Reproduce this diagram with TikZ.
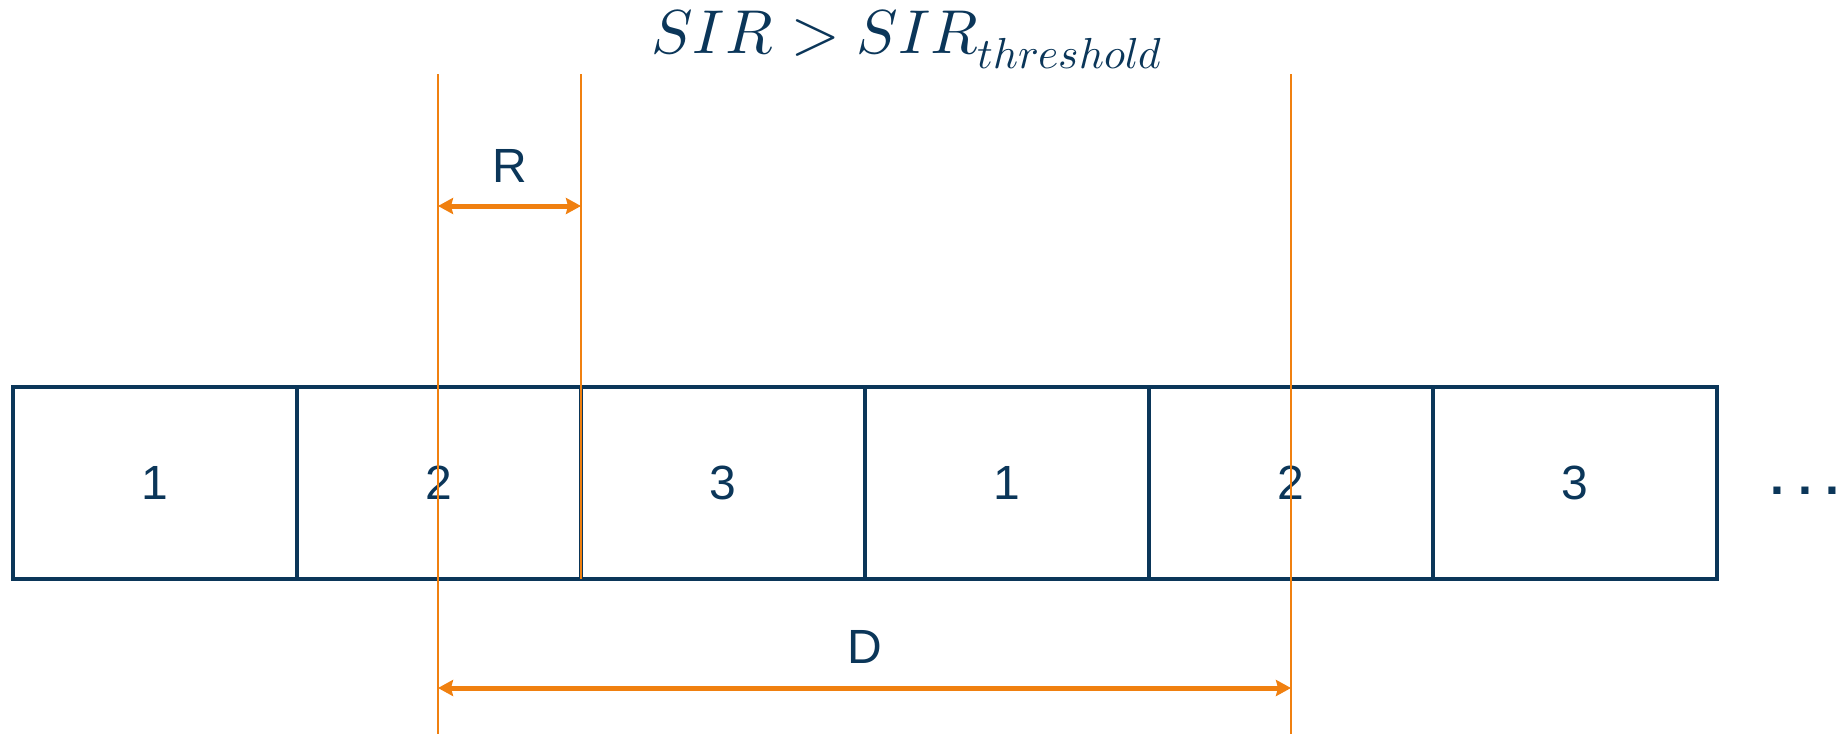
\documentclass[tikz,border=0pt]{standalone}
\usepackage{fontspec}
\usepackage{unicode-math}
\setmainfont{Liberation Sans}
\setmathfont{Latin Modern Math}
\usetikzlibrary{arrows.meta}
\definecolor{navy}{RGB}{11,54,89}
\definecolor{amber}{RGB}{240,128,16}
\frenchspacing

\begin{document}
\begin{tikzpicture}[x=1pt, y=-1pt, font=\fontsize{48}{56}\selectfont, text=navy]
\tikzset{
  cell/.style={draw=navy, line width=4pt, minimum width=284pt, minimum height=192pt, inner sep=0pt, outer sep=0pt},
  guide/.style={draw=amber, line width=2.5pt},
  gap/.style={draw=amber, line width=5pt, {Stealth[length=15pt, width=16pt, inset=2pt]}-{Stealth[length=15pt, width=16pt, inset=2pt]}},
  lab/.style={inner sep=0pt}}
\useasboundingbox (0,0) rectangle (1844,734);

% ---------------- condition on top ----------------
\node[lab, anchor=base, font=\fontsize{62}{72}\selectfont] (cond) at (907,53) {$SIR > SIR_{threshold}$};

% ---------------- row of cells, reuse pattern 1 2 3 ----------------
\foreach \n [count=\i] in {1,2,3,1,2,3}
  \node[cell] (c\i) at ({13+284*(\i-0.5)},483) {\n};
\node[lab, anchor=base, font=\fontsize{50}{60}\selectfont\bfseries] (more) at (1805,494) {. . .};

% ---------------- guide lines ----------------
\coordinate (g1t) at (438,74);   \coordinate (g1b) at (438,734);
\coordinate (g2t) at (581,74);   \coordinate (g2b) at (581,579);
\coordinate (g3t) at (1291,74);  \coordinate (g3b) at (1291,734);
\draw[guide] (g1t) -- (g1b);
\draw[guide] (g2t) -- (g2b);
\draw[guide] (g3t) -- (g3b);

% ---------------- R and D ----------------
\coordinate (rl) at (438,206);  \coordinate (rr) at (581,206);
\coordinate (dl) at (438,688);  \coordinate (dr) at (1291,688);
\draw[gap] (rl) -- (rr) node[lab, midway, above=21pt] (rlab) {R};
\draw[gap] (dl) -- (dr) node[lab, midway, above=22pt] (dlab) {D};
\end{tikzpicture}
\end{document}
